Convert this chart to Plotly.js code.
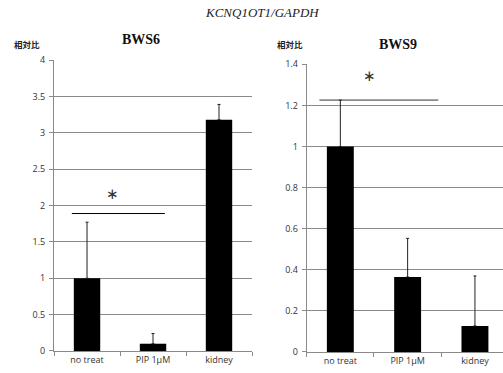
<!DOCTYPE html>
<html><head><meta charset="utf-8">
<script src="https://cdn.plot.ly/plotly-3.0.1.min.js"></script>
<style>body{margin:0;background:#fff}#c{width:503px;height:373px}</style>
</head><body><div id="c"></div>
<script>
const categories = ["no treat", "PIP 1μM", "kidney"];
const bws6Values = [1.0, 0.1, 3.18];
const bws6ErrUp = [0.77, 0.14, 0.21];
const bws9Values = [1.0, 0.365, 0.127];
const bws9ErrUp = [0.226, 0.188, 0.243];
const bws6Sig = {x: [-0.23, 1.18], y: 1.89, starX: 0.39, starY: 2.16};
const bws9Sig = {x: [-0.31, 1.455], y: 1.226, starX: 0.44, starY: 1.344};
const titles = {main: "KCNQ1OT1/GAPDH", left: "BWS6", right: "BWS9", ylab: "相対比"};

const tickFont = {family: "Open Sans, sans-serif", size: 9, color: "#333"};
const gridC = "#8a8a8a";

function barTrace(vals, errs, xa, ya) {
  return {type: "bar", x: categories, y: vals, xaxis: xa, yaxis: ya,
    marker: {color: "#000"},
    error_y: {type: "data", array: errs, arrayminus: errs.map(() => 0), symmetric: false,
      color: "#222", thickness: 1, width: 1.5},
    showlegend: false, hoverinfo: "skip"};
}

const data = [barTrace(bws6Values, bws6ErrUp, "x", "y"), barTrace(bws9Values, bws9ErrUp, "x2", "y2")];

function xax(domain, range) {
  return {domain: domain, type: "category", range: range, tickson: "boundaries",
    ticks: "outside", ticklen: 4, tickcolor: gridC, showline: true, linecolor: gridC,
    showgrid: false, tickfont: tickFont, automargin: false, fixedrange: true};
}
function yax(domain, range, dtick, anchor) {
  return {domain: domain, range: range, dtick: dtick, anchor: anchor,
    ticks: "outside", ticklen: 4, tickcolor: gridC, showline: true, linecolor: gridC,
    showgrid: true, gridcolor: gridC, gridwidth: 1, zeroline: false,
    tickfont: tickFont, automargin: false, ticklabelstandoff: 2};
}
function ann(text, x, y, font, xref, yref) {
  return {text: text, x: x, y: y, xref: xref || "paper", yref: yref || "paper",
    xanchor: "center", yanchor: "middle", showarrow: false, font: font};
}
const py = v => 1 - v / 373, px = v => v / 503;
const serif = (s) => ({family: "Liberation Serif, serif", size: s, color: "#111"});
const cjk = {family: "Noto Sans CJK JP", size: 8.5, color: "#222"};
const star = {family: "DejaVu Sans", size: 15, color: "#333"};

const layout = {
  width: 503, height: 373, margin: {l: 0, r: 0, t: 0, b: 0},
  paper_bgcolor: "#fff", plot_bgcolor: "rgba(0,0,0,0)", bargap: 0.6,
  xaxis: Object.assign(xax([0.1074, 0.501], [-0.5, 2.5]), {anchor: "y"}),
  yaxis: yax([0.059, 0.839], [0, 4], 0.5, "x"),
  xaxis2: Object.assign(xax([0.6097, 1], [-0.5, 2.417]), {anchor: "y2"}),
  yaxis2: yax([0.0563, 0.8276], [0, 1.4], 0.2, "x2"),
  shapes: [
    {type: "line", xref: "x", yref: "y", x0: bws6Sig.x[0], x1: bws6Sig.x[1], y0: bws6Sig.y, y1: bws6Sig.y, line: {color: "#000", width: 1}},
    {type: "line", xref: "x2", yref: "y2", x0: bws9Sig.x[0], x1: bws9Sig.x[1], y0: bws9Sig.y, y1: bws9Sig.y, line: {color: "#333", width: 1}}
  ],
  annotations: [
    ann("<i>" + titles.main + "</i>", px(262), py(12.5), Object.assign(serif(13), {color: "#222"})),
    ann("<b>" + titles.left + "</b>", px(141), py(39.5), serif(14)),
    ann("<b>" + titles.right + "</b>", px(398), py(45), serif(14)),
    ann("<b>" + titles.ylab + "</b>", px(27), py(44), cjk),
    ann("<b>" + titles.ylab + "</b>", px(290), py(44), cjk),
    ann("∗", bws6Sig.starX, bws6Sig.starY, star, "x", "y"),
    ann("∗", bws9Sig.starX, bws9Sig.starY, star, "x2", "y2")
  ]
};

Plotly.newPlot("c", data, layout, {staticPlot: true});
</script></body></html>
